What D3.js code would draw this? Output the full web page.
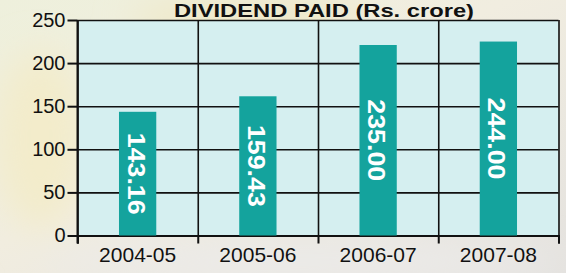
<!DOCTYPE html>
<html>
<head>
<meta charset="utf-8">
<script src="https://cdn.jsdelivr.net/npm/d3@7"></script>
<style>
  html, body { margin: 0; padding: 0; }
  body { width: 566px; height: 273px; overflow: hidden; }
  text { font-family: "Liberation Sans", Arial, sans-serif; }
</style>
</head>
<body>
<svg id="chart" width="566" height="273"></svg>
<script>
// chart data
var years = ["2004-05", "2005-06", "2006-07", "2007-08"];
// bar heights as they are drawn in the picture (Rs. crore)
var barHeights = [143.5, 161.5, 221, 225];
// printed values inside the bars
var dividendLabels = ["143.16", "159.43", "235.00", "244.00"];
var yTicks = [0, 50, 100, 150, 200, 250];
var title = "DIVIDEND PAID (Rs. crore)";

var width = 566, height = 273;
var plot = {left: 77.5, right: 558.5, top: 20, bottom: 235.5};

var svg = d3.select("#chart");

// background, a soft paper look
var defs = svg.append("defs");
var bg = defs.append("linearGradient").attr("id", "paper")
  .attr("x1", 0).attr("y1", 0).attr("x2", 1).attr("y2", 1);
bg.append("stop").attr("offset", "0%").attr("stop-color", "#eef0dc");
bg.append("stop").attr("offset", "45%").attr("stop-color", "#f1ede0");
bg.append("stop").attr("offset", "100%").attr("stop-color", "#e4e2df");
defs.append("filter").attr("id", "blur")
  .append("feGaussianBlur").attr("stdDeviation", 18);

svg.append("rect").attr("width", width).attr("height", height).attr("fill", "url(#paper)");
var blobs = svg.append("g").attr("filter", "url(#blur)");
blobs.append("ellipse").attr("cx", 40).attr("cy", 140).attr("rx", 45).attr("ry", 90).attr("fill", "#f3eccb");
blobs.append("ellipse").attr("cx", 250).attr("cy", 20).attr("rx", 120).attr("ry", 25).attr("fill", "#efe9c9");
blobs.append("ellipse").attr("cx", 300).attr("cy", 262).attr("rx", 260).attr("ry", 18).attr("fill", "#ecebea");

// scales
var x = d3.scaleBand().domain(years).range([plot.left, plot.right]).padding(0);
var xEdge = d3.scaleLinear().domain([0, years.length]).range([plot.left, plot.right]);
var y = d3.scaleLinear().domain([0, 250]).range([plot.bottom, plot.top]);

// plot background
svg.append("rect")
  .attr("x", plot.left).attr("y", plot.top)
  .attr("width", plot.right - plot.left).attr("height", plot.bottom - plot.top)
  .attr("fill", "#d5eff0");

// horizontal grid
svg.append("g")
  .attr("transform", "translate(" + plot.left + ",0)")
  .call(d3.axisLeft(y).tickValues(yTicks).tickSize(-(plot.right - plot.left)).tickFormat(""))
  .call(function(g){
    g.select(".domain").remove();
    g.selectAll("line").attr("stroke", "#111").attr("stroke-width", 1.6);
  });

// vertical grid at band edges
svg.append("g")
  .attr("transform", "translate(0," + plot.bottom + ")")
  .call(d3.axisBottom(xEdge).ticks(years.length).tickFormat("")
    .tickSizeInner(-(plot.bottom - plot.top)).tickSizeOuter(0))
  .call(function(g){
    g.select(".domain").remove();
    g.selectAll("line").attr("stroke", "#111").attr("stroke-width", 1.6);
  });
// x axis line + ticks below
svg.append("g")
  .attr("transform", "translate(0," + plot.bottom + ")")
  .call(d3.axisBottom(xEdge).ticks(years.length).tickSize(8).tickFormat(""))
  .call(function(g){
    g.select(".domain").attr("stroke", "#111").attr("stroke-width", 2);
    g.selectAll("line").attr("stroke", "#111").attr("stroke-width", 2);
  });

// bars
var barW = x.bandwidth() * 0.31;
svg.selectAll(".bar")
  .data(barHeights)
  .enter().append("rect")
  .attr("class", "bar")
  .attr("x", function(d, i){ return x(years[i]) + (x.bandwidth() - barW) / 2; })
  .attr("y", function(d){ return y(d); })
  .attr("width", barW)
  .attr("height", function(d){ return y(0) - y(d); })
  .attr("fill", "#14a39d");

// value labels, rotated
svg.selectAll(".val")
  .data(dividendLabels)
  .enter().append("text")
  .attr("class", "val")
  .attr("transform", function(d, i){
    var cx = x(years[i]) + x.bandwidth() / 2 - 1.5;
    var cy = (y(barHeights[i]) + y(0)) / 2;
    return "translate(" + cx + "," + cy + ") rotate(90)";
  })
  .attr("text-anchor", "middle")
  .attr("dominant-baseline", "central")
  .attr("fill", "#fff")
  .attr("font-weight", "bold")
  .attr("font-size", 24)
  .attr("textLength", 82)
  .attr("lengthAdjust", "spacingAndGlyphs")
  .text(function(d){ return d; });

// y axis
svg.append("g")
  .attr("transform", "translate(" + plot.left + ",0)")
  .call(d3.axisLeft(y).tickValues(yTicks).tickSize(10).tickPadding(2))
  .call(function(g){
    g.select(".domain").attr("stroke", "#111").attr("stroke-width", 2)
      .attr("d", "M0," + plot.top + "V" + (plot.bottom + 8));
    g.selectAll("line").attr("stroke", "#111").attr("stroke-width", 2);
    g.selectAll("text").attr("font-size", 20).attr("fill", "#111")
      .attr("font-family", "'Liberation Sans', Arial, sans-serif");
  });

// x labels
svg.append("g")
  .attr("transform", "translate(0," + plot.bottom + ")")
  .call(d3.axisBottom(x).tickSize(0).tickPadding(0))
  .call(function(g){
    g.select(".domain").remove();
    g.selectAll("text").attr("font-size", 21).attr("fill", "#111")
      .attr("dy", null).attr("y", 26.5)
      .attr("font-family", "'Liberation Sans', Arial, sans-serif");
  });

// title, squeezed against the top edge as in the original
svg.append("text")
  .attr("x", 324).attr("y", 17)
  .attr("text-anchor", "middle")
  .attr("font-weight", "bold")
  .attr("font-size", 18.5)
  .attr("textLength", 300)
  .attr("lengthAdjust", "spacingAndGlyphs")
  .attr("fill", "#111")
  .text(title);
</script>
</body>
</html>
